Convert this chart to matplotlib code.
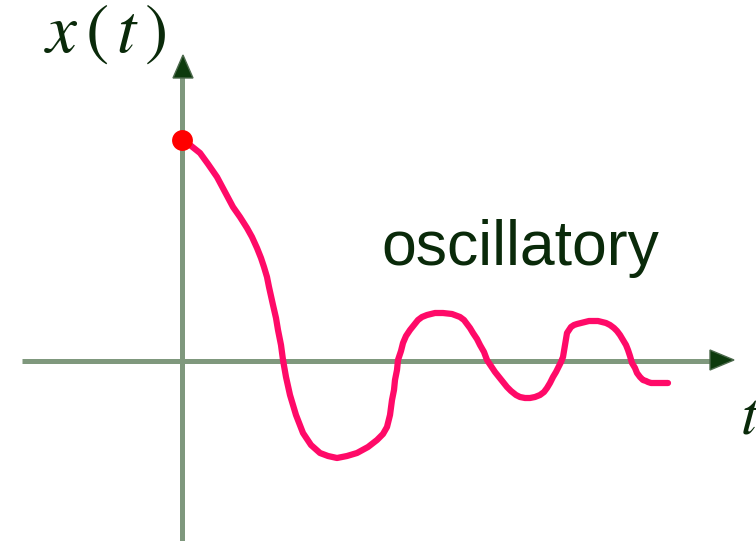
import numpy as np
import matplotlib.pyplot as plt
from matplotlib.patches import Polygon

# curve (pixel coords, y grows downward)
curve_x = [182, 186, 190, 195, 200, 208, 217, 225, 233, 240, 247, 252, 257, 261, 264,
           267, 269, 271, 273, 276, 278, 281, 283, 286, 290, 296, 303, 311, 320, 328,
           337, 347, 357, 368, 377, 383, 387, 390, 392, 394, 395, 397, 398, 401, 403,
           406, 410, 414, 418, 422, 427, 435, 443, 452, 460, 464, 467, 470, 473, 477,
           480, 484, 487, 491, 495, 499, 503, 507, 511, 516, 520, 525, 530, 535, 540,
           544, 547, 550, 553, 556, 558, 561, 563, 564, 565, 566, 567, 569, 571, 574,
           577, 581, 585, 589, 593, 598, 602, 606, 610, 614, 617, 620, 623, 626, 628,
           630, 632, 635, 637, 640, 643, 646, 648, 651, 653, 657, 660, 664, 668]
curve_y = [140, 142, 145, 149, 153, 164, 177, 192, 207, 217, 228, 237, 248, 258, 267,
           277, 287, 296, 305, 318, 330, 345, 360, 377, 395, 415, 433, 445, 453, 456,
           458, 456, 453, 447, 440, 434, 427, 415, 400, 390, 380, 370, 360, 351, 343,
           336, 330, 325, 320, 317, 315, 313, 313, 314, 317, 320, 324, 328, 333, 339,
           345, 352, 360, 366, 372, 377, 382, 387, 391, 395, 397, 398, 398, 397, 395,
           392, 388, 383, 377, 372, 368, 362, 357, 351, 345, 339, 333, 330, 327, 325,
           324, 323, 322, 321, 321, 321, 322, 323, 325, 328, 331, 335, 340, 345, 350,
           356, 363, 368, 373, 377, 380, 381, 382, 383, 383, 383, 383, 383, 383]
start_pt = (182, 140)

axis_col = '#7f987d'
arrow_col = '#0d3a0d'
curve_col = '#ff0a68'
text_col = '#0a2a0a'

fig = plt.figure(figsize=(7.56, 5.41), dpi=100)
ax = fig.add_axes([0, 0, 1, 1])
ax.set_xlim(0, 756)
ax.set_ylim(541, 0)
ax.axis('off')

# axes with arrows
ax.plot([182, 182], [541, 75], color=axis_col, lw=3.6, solid_capstyle='butt', zorder=1)
ax.plot([22, 712], [361, 361], color=axis_col, lw=3.6, solid_capstyle='butt', zorder=1)
ax.add_patch(Polygon([[183, 55], [173, 78], [193, 78]], closed=True,
                     facecolor=arrow_col, edgecolor='#4d6a4d', lw=1, zorder=2))
ax.add_patch(Polygon([[734, 360], [710, 350], [710, 370]], closed=True,
                     facecolor=arrow_col, edgecolor='#4d6a4d', lw=1, zorder=2))

# response curve
ax.plot(curve_x, curve_y, color=curve_col, lw=4.5, solid_capstyle='round',
        solid_joinstyle='round', zorder=3)
ax.plot(*start_pt, 'o', color='#ff0000', ms=15, mec='none', zorder=4)

# labels
plt.rcParams['mathtext.fontset'] = 'stix'
ax.text(44, 52, r'$x\,(\,t\,)$', fontsize=50, color=text_col, ha='left', va='baseline')
ax.text(381, 265, 'oscillatory', fontsize=45, family='Liberation Sans',
        color=text_col, ha='left', va='baseline')
ax.text(740, 434, r'$t$', fontsize=44, color=text_col, ha='left', va='baseline')

fig.savefig('out.png', dpi=100)
